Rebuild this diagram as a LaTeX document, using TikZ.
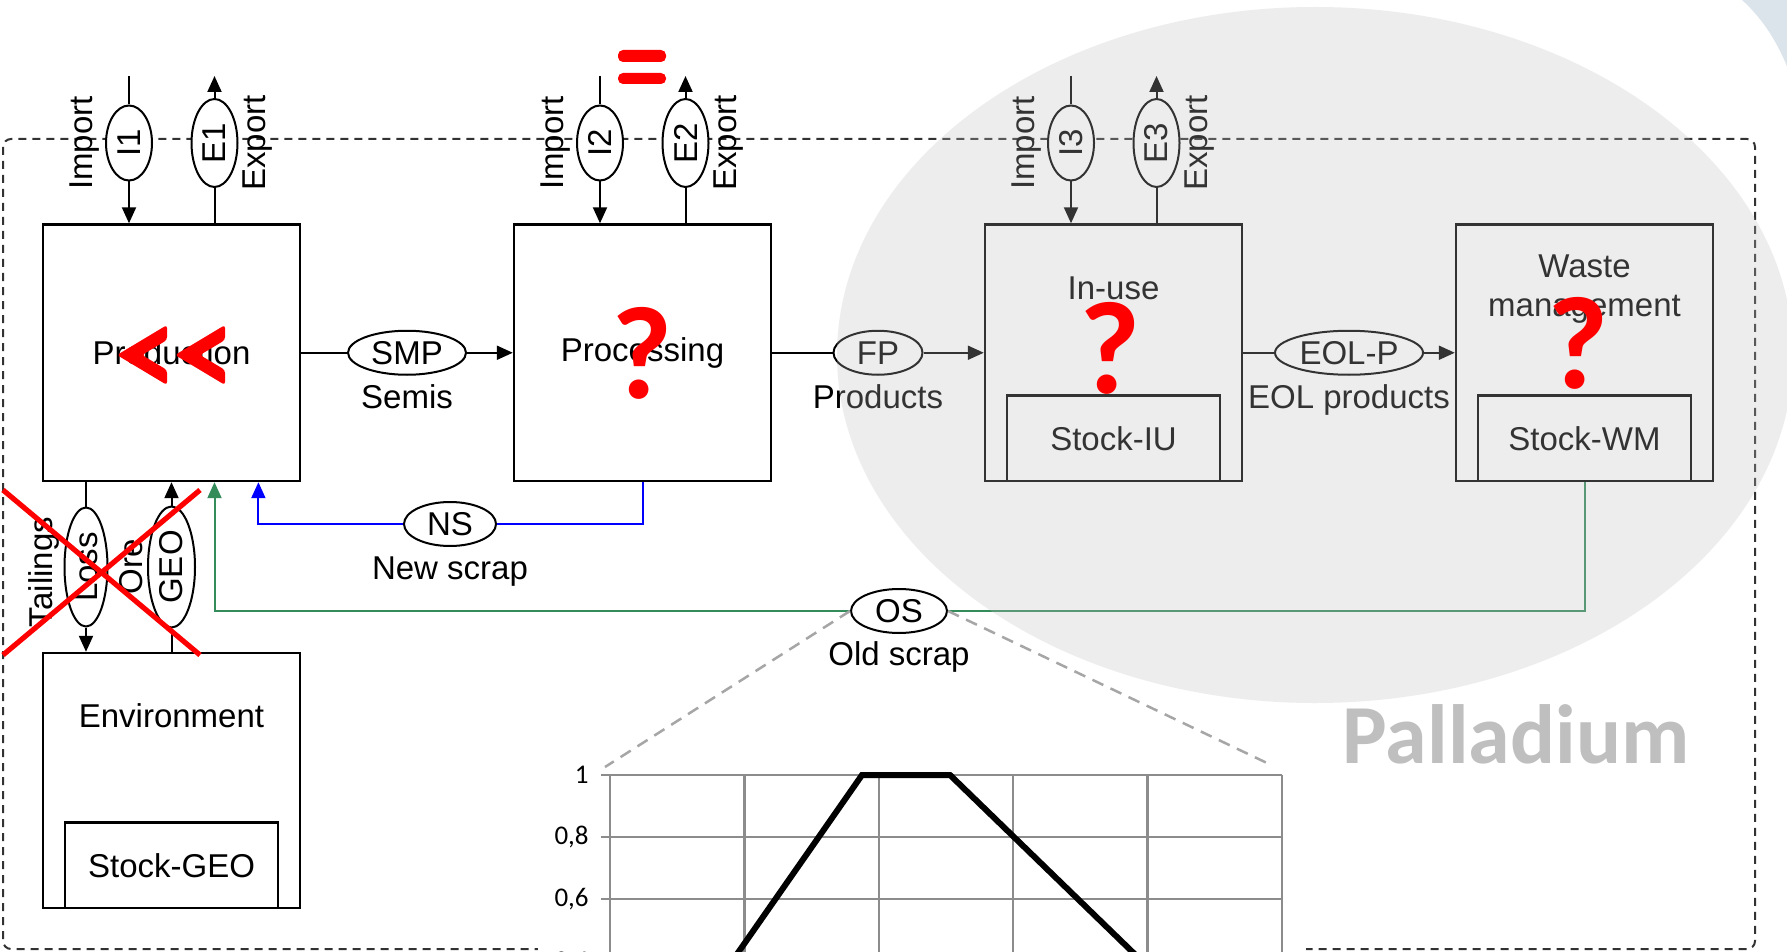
\documentclass[tikz,border=0pt]{standalone}
\usepackage{fontspec}
\setmainfont{Liberation Sans}
\newfontfamily\carlito{Carlito}
\usetikzlibrary{shapes.geometric,arrows.meta,calc}
\definecolor{osgreen}{RGB}{52,140,90}
\definecolor{bgblue}{RGB}{220,228,235}
\definecolor{gridgray}{RGB}{140,140,140}
\definecolor{zoomgray}{RGB}{166,166,166}
\definecolor{palgray}{RGB}{191,191,191}
\definecolor{boundgray}{RGB}{50,50,50}
\begin{document}
\begin{tikzpicture}[x=0.5pt,y=-0.5pt,
  every node/.style={font=\fontsize{16.5}{19.5}\selectfont, inner sep=0pt},
  box/.style={draw, line width=1.2pt, minimum width=128.5pt, minimum height=128.25pt, fill=white},
  stockbox/.style={draw, line width=1.2pt, minimum width=106.5pt, minimum height=42.75pt},
  flowell/.style={ellipse, draw, line width=1pt, fill=white, minimum height=22pt},
  vell/.style={ellipse, draw, line width=1pt, fill=white, rotate=90, minimum height=23pt},
  flow/.style={line width=1pt},
  arr/.style={line width=1pt, -{Triangle[length=8pt,width=7pt]}},
  gridline/.style={gridgray, line width=1.25pt},
  ticklabel/.style={anchor=east, font=\carlito\fontsize{13.5}{16}\selectfont},
  zoomline/.style={zoomgray, line width=1.25pt, dash pattern=on 6pt off 4pt},
  qmark/.style={text=red, font=\carlito\bfseries\fontsize{66}{66}\selectfont},
  rotlabel/.style={rotate=90}
]
\useasboundingbox (0,0) rectangle (1787,952);
\fill[white] (0,0) rectangle (1787,952);
% pale blue corner
\fill[bgblue] (1742,-2) -- (1742,0) .. controls (1762,18) and (1778,42) .. (1790,74) -- (1790,-2) -- cycle;
% system boundary
\draw[boundgray, line width=1pt, dash pattern=on 4pt off 3pt, rounded corners=4pt] (3,139) rectangle (1755,949);
\fill[white] (538,770) rectangle (1306,960);

% processes
\node[box] (prod) at (171.5,352.75) {};
\node (prodlabel) at (prod) {Production};
\node[box] (proc) at (642.5,352.75) {};
\node (proclabel) at (proc) {Processing};
\node[box] (inuse) at (1113.5,352.75) {};
\node[stockbox, anchor=south] (stockiu) at (inuse.south) {};
\node (stockiulabel) at (stockiu) {Stock-IU};
\node (inuselabel) at (1113.5,288) {In-use};
\node[box] (waste) at (1584.5,352.75) {};
\node[stockbox, anchor=south] (stockwm) at (waste.south) {};
\node (stockwmlabel) at (stockwm) {Stock-WM};
\node[align=center] (wastelabel) at (1584.5,289) {Waste\\management};
\node[box, minimum height=127.5pt] (env) at (171.5,780.5) {};
\node[stockbox, anchor=south] (stockgeo) at (env.south) {};
\node (stockgeolabel) at (stockgeo) {Stock-GEO};
\node (envlabel) at (171.5,716) {Environment};

% imports and exports
\foreach \i/\L/\B in {1/43/prod,2/514/proc,3/985/inuse}{
  \node[vell, minimum width=37.5pt] (I\i) at (\L+86,143) {I\i};
  \node[vell, minimum width=44pt] (E\i) at (\L+171.5,143) {E\i};
  \coordinate (It\i) at (\L+86,76);
  \coordinate (Et\i) at (\L+171.5,76);
  \draw[flow] (It\i) -- (I\i);
  \draw[arr] (I\i) -- (I\i |- \B.north);
  \draw[flow] (\B.north -| E\i) -- (E\i);
  \draw[arr] (E\i) -- (Et\i);
  \node[rotlabel] (imp\i) at (\L+42,143) {Import};
  \node[rotlabel] (exp\i) at (\L+214.5,143) {Export};
}

% main flows
\node[flowell, minimum width=59pt] (SMP) at (407,352.75) {SMP};
\node[anchor=base] (semis) at (407,408) {Semis};
\draw[flow] (prod.east) -- (SMP);
\draw[arr] (SMP) -- (proc.west);
\node[flowell, minimum width=44.5pt] (FP) at (878,352.75) {FP};
\node[anchor=base] (products) at (878,408) {Products};
\draw[flow] (proc.east) -- (FP);
\draw[arr] (FP) -- (inuse.west);
\node[flowell, minimum width=74pt] (EOLP) at (1349,352.75) {EOL-P};
\node[anchor=base] (eolproducts) at (1349,408) {EOL products};
\draw[flow] (inuse.east) -- (EOLP);
\draw[arr] (EOLP) -- (waste.west);

% new scrap
\node[flowell, minimum width=46pt] (NS) at (450,524) {NS};
\node[anchor=base] (nslabel) at (450,579) {New scrap};
\coordinate (nsin) at ($(prod.south west)!0.835!(prod.south east)$);
\draw[flow, blue] (proc.south) |- (NS.east);
\draw[arr, blue] (NS.west) -| (nsin);

% old scrap
\node[flowell, minimum width=48pt] (OS) at (899,611) {OS};
\node[anchor=base] (oslabel) at (899,665) {Old scrap};
\coordinate (osin) at (E1 |- prod.south);
\draw[flow, osgreen] (stockwm.south) |- (OS.east);
\draw[arr, osgreen] (OS.west) -| (osin);

% environment flows
\node[vell, minimum width=59.5pt, minimum height=21.5pt] (Loss) at (86,567) {Loss};
\node[vell, minimum width=60.5pt, minimum height=23.5pt] (GEO) at (171.5,567) {GEO};
\draw[flow] (prod.south -| Loss) -- (Loss);
\draw[arr] (Loss) -- (Loss |- env.north);
\draw[flow] (env.north -| GEO) -- (GEO);
\draw[arr] (GEO) -- (GEO |- prod.south);
\node[rotlabel] (tail) at (44,572) {Tailings};
\node[rotlabel] (ore) at (131,567) {Ore};

% chart
\foreach \k in {0,...,5} \draw[gridline] (610+134.4*\k,775) -- (610+134.4*\k,1000);
\foreach \yy in {775,837,899,961} \draw[gridline] (601,\yy) -- (1282,\yy);
\node[ticklabel] (t1) at (589,775) {1};
\node[ticklabel] (t08) at (589,837) {0,8};
\node[ticklabel] (t06) at (589,899) {0,6};
\node[ticklabel] (t04) at (589,962) {0,4};
\draw[line width=3pt, line join=miter] (705,1000) -- (862,775) -- (950,775) -- (1182,1000);
\coordinate (zl) at (605,767);
\coordinate (zr) at (1267,763);
\draw[zoomline] (OS.west) -- (zl);
\draw[zoomline] (OS.east) -- (zr);

% grey overlay
\fill[black!25, opacity=0.27] (1315,355) ellipse [x radius=478, y radius=348];

% red annotations
\fill[red, rounded corners=1.5pt] (117,355) -- (167,325) -- (167,340) -- (142,355) -- (167,370) -- (167,385) -- cycle;
\fill[red, rounded corners=1.5pt] (175,355) -- (225,325) -- (225,340) -- (200,355) -- (225,370) -- (225,385) -- cycle;
\fill[red, rounded corners=2.5pt] (618,50) rectangle (666,62);
\fill[red, rounded corners=2.5pt] (618,73) rectangle (666,84);
\draw[red, line width=2.6pt] (3,490) -- (200,655);
\draw[red, line width=2.6pt] (200,490) -- (3,655);
\node[qmark] (q1) at (642,353) {?};
\node[qmark] (q2) at (1110,348) {?};
\node[qmark] (q3) at (1578,343) {?};

\node[anchor=base, text=palgray, font=\carlito\bfseries\fontsize{42}{42}\selectfont] (pal) at (1516,763) {Palladium};
\end{tikzpicture}
\end{document}
